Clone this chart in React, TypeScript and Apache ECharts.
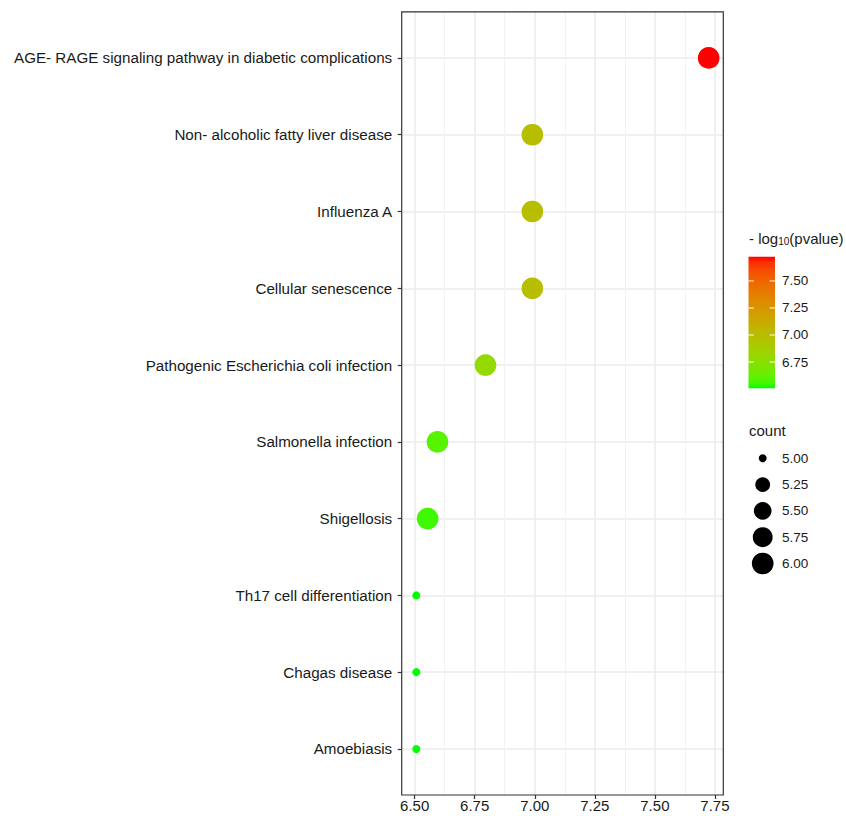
import React, { useEffect, useRef } from "react";
import * as echarts from "echarts";

const categories = [
  "AGE- RAGE signaling pathway in diabetic complications",
  "Non- alcoholic fatty liver disease",
  "Influenza A",
  "Cellular senescence",
  "Pathogenic Escherichia coli infection",
  "Salmonella infection",
  "Shigellosis",
  "Th17 cell differentiation",
  "Chagas disease",
  "Amoebiasis",
];
const xValues = [7.724, 6.99, 6.99, 6.99, 6.795, 6.595, 6.554, 6.507, 6.507, 6.507];
const negLog10P = [7.724, 6.99, 6.99, 6.99, 6.795, 6.595, 6.554, 6.507, 6.507, 6.507];
const counts = [6, 6, 6, 6, 6, 6, 6, 5, 5, 5];
const xTicks = [6.5, 6.75, 7.0, 7.25, 7.5, 7.75];
const xMinorTicks = [6.625, 6.875, 7.125, 7.375, 7.625];
const colorTicks = [6.75, 7.0, 7.25, 7.5];
const sizeTicks = [5.0, 5.25, 5.5, 5.75, 6.0];

const FONT = "'Liberation Sans', Arial, sans-serif";

// ---- Lab interpolation (like ggplot's gradient) ----
function toLin(c: number) {
  c /= 255;
  return c <= 0.04045 ? c / 12.92 : Math.pow((c + 0.055) / 1.055, 2.4);
}
function fromLin(c: number) {
  const v = c <= 0.0031308 ? 12.92 * c : 1.055 * Math.pow(c, 1 / 2.4) - 0.055;
  return Math.max(0, Math.min(255, Math.round(v * 255)));
}
function rgbToLab(r: number, g: number, b: number) {
  const R = toLin(r), G = toLin(g), B = toLin(b);
  const X = (0.4124 * R + 0.3576 * G + 0.1805 * B) / 0.95047;
  const Y = 0.2126 * R + 0.7152 * G + 0.0722 * B;
  const Z = (0.0193 * R + 0.1192 * G + 0.9505 * B) / 1.08883;
  const f = (t: number) => (t > 0.008856 ? Math.cbrt(t) : 7.787 * t + 16 / 116);
  const fx = f(X), fy = f(Y), fz = f(Z);
  return [116 * fy - 16, 500 * (fx - fy), 200 * (fy - fz)];
}
function labToHex(L: number, a: number, b: number) {
  const fy = (L + 16) / 116;
  const fx = fy + a / 500;
  const fz = fy - b / 200;
  const inv = (t: number) => (t > 0.206893 ? t * t * t : (t - 16 / 116) / 7.787);
  const X = inv(fx) * 0.95047, Y = inv(fy), Z = inv(fz) * 1.08883;
  const R = 3.2406 * X - 1.5372 * Y - 0.4986 * Z;
  const G = -0.9689 * X + 1.8758 * Y + 0.0415 * Z;
  const B = 0.0557 * X - 0.204 * Y + 1.057 * Z;
  const h = (v: number) => fromLin(v).toString(16).padStart(2, "0");
  return "#" + h(R) + h(G) + h(B);
}
const LOW = rgbToLab(0, 255, 0);
const HIGH = rgbToLab(255, 0, 0);
function gradColor(t: number) {
  return labToHex(
    LOW[0] + (HIGH[0] - LOW[0]) * t,
    LOW[1] + (HIGH[1] - LOW[1]) * t,
    LOW[2] + (HIGH[2] - LOW[2]) * t
  );
}
const NSTOPS = 24;
const colorStops = Array.from({ length: NSTOPS + 1 }, (_, i) => gradColor(i / NSTOPS));

const cMin = Math.min(...negLog10P);
const cMax = Math.max(...negLog10P);
const sMin = Math.min(...counts);
const sMax = Math.max(...counts);
function sizeOf(c: number) {
  const t = sMax > sMin ? (c - sMin) / (sMax - sMin) : 1;
  return 8 + 13.7 * Math.sqrt(t);
}

export default function App() {
  const ref = useRef<HTMLDivElement>(null);
  useEffect(() => {
    if (!ref.current) return;
    const chart = echarts.init(ref.current, null, { renderer: "svg" });
    const xmin0 = Math.min(...xValues);
    const xmax0 = Math.max(...xValues);
    const pad = (xmax0 - xmin0) * 0.05;
    const xMin = xmin0 - pad;
    const xMax = xmax0 + pad;
    const yIdx = categories.map((_, i) => i);

    // legend geometry
    const barX = 748.5, barY = 256.7, barW = 26.5, barH = 131.6;
    const barBottom = barY + barH;
    const yOfC = (v: number) => barBottom - ((v - cMin) / (cMax - cMin)) * barH;
    const graphics: any[] = [];
    graphics.push({
      type: "text",
      left: 749,
      top: 231,
      style: {
        text: "{n|- log}{s|10}{n|(pvalue)}",
        fill: "#1a1a1a",
        rich: {
          n: { fontSize: 15, fontFamily: FONT, fill: "#1a1a1a" },
          s: { fontSize: 10, fontFamily: FONT, fill: "#1a1a1a", padding: [6, 0, 0, 0] },
        },
      },
    });
    graphics.push({
      type: "rect",
      shape: { x: barX, y: barY, width: barW, height: barH },
      style: {
        fill: new echarts.graphic.LinearGradient(
          0, 1, 0, 0,
          colorStops.map((c, i) => ({ offset: i / NSTOPS, color: c }))
        ),
      },
    });
    colorTicks.forEach((v) => {
      const y = yOfC(v);
      graphics.push({ type: "line", shape: { x1: barX, y1: y, x2: barX + 5.3, y2: y }, style: { stroke: "#ffffff", lineWidth: 1 } });
      graphics.push({ type: "line", shape: { x1: barX + barW - 5.3, y1: y, x2: barX + barW, y2: y }, style: { stroke: "#ffffff", lineWidth: 1 } });
      graphics.push({
        type: "text",
        x: 782,
        y: y,
        style: { text: v.toFixed(2), fontSize: 13.5, fontFamily: FONT, fill: "#1a1a1a", verticalAlign: "middle", align: "left" },
      });
    });
    graphics.push({
      type: "text",
      x: 749,
      y: 430,
      style: { text: "count", fontSize: 15, fontFamily: FONT, fill: "#1a1a1a", verticalAlign: "middle" },
    });
    sizeTicks.forEach((v, i) => {
      const y = 458.3 + i * 26.3;
      graphics.push({ type: "circle", shape: { cx: 762.7, cy: y, r: sizeOf(v) / 2 }, style: { fill: "#000000" } });
      graphics.push({
        type: "text",
        x: 782,
        y: y,
        style: { text: v.toFixed(2), fontSize: 13.5, fontFamily: FONT, fill: "#1a1a1a", verticalAlign: "middle", align: "left" },
      });
    });

    const option: any = {
      animation: false,
      backgroundColor: "#ffffff",
      grid: {
        left: 401.7,
        right: 846 - 723.3,
        top: 11.9,
        bottom: 816 - 795,
        show: true,
        borderColor: "#333333",
        borderWidth: 1.2,
        backgroundColor: "transparent",
        z: 10,
      },
      xAxis: [
        {
          type: "value",
          min: xMin,
          max: xMax,
          position: "bottom",
          axisLine: { show: false, onZero: false },
          axisTick: { show: true, customValues: xTicks, length: 4, lineStyle: { color: "#333333", width: 1.2 } },
          axisLabel: {
            customValues: xTicks,
            formatter: (v: number) => v.toFixed(2),
            fontSize: 15,
            fontFamily: FONT,
            color: "#1a1a1a",
            margin: 3,
          },
          splitLine: { show: true, lineStyle: { color: "#EBEBEB", width: 1.5 } },
        },
        {
          type: "value",
          min: xMin,
          max: xMax,
          position: "bottom",
          axisLine: { show: false, onZero: false },
          axisTick: { show: false, customValues: xMinorTicks },
          axisLabel: { show: false, customValues: xMinorTicks },
          splitLine: { show: true, lineStyle: { color: "#F2F2F2", width: 1 } },
        },
      ],
      yAxis: {
        type: "value",
        min: -0.6,
        max: categories.length - 1 + 0.6,
        inverse: true,
        position: "left",
        axisLine: { show: false, onZero: false },
        axisTick: { show: true, customValues: yIdx, length: 4, lineStyle: { color: "#333333", width: 1.2 } },
        axisLabel: {
          customValues: yIdx,
          formatter: (v: number) => categories[Math.round(v)] ?? "",
          fontSize: 15.2,
          fontFamily: FONT,
          color: "#1a1a1a",
          margin: 9.5,
        },
        splitLine: { show: true, lineStyle: { color: "#EBEBEB", width: 1.5 } },
      },
      visualMap: {
        type: "continuous",
        show: false,
        dimension: 3,
        min: cMin,
        max: cMax,
        seriesIndex: 0,
        inRange: { color: colorStops },
      },
      series: [
        {
          type: "scatter",
          xAxisIndex: 0,
          data: categories.map((_, i) => [xValues[i], i, counts[i], negLog10P[i]]),
          symbolSize: (val: number[]) => sizeOf(val[2]),
          itemStyle: { opacity: 1 },
          z: 5,
        },
      ],
      graphic: graphics,
    };
    chart.setOption(option);
    return () => chart.dispose();
  }, []);
  return <div ref={ref} style={{ position: "fixed", left: 0, top: 0, width: 846, height: 816, background: "#fff" }} />;
}
